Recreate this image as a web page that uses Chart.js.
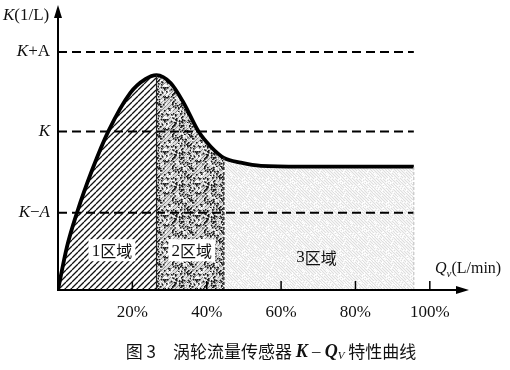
<!DOCTYPE html>
<html><head><meta charset="utf-8">
<script src="https://cdn.jsdelivr.net/npm/chart.js@4"></script>
<style>html,body{margin:0;padding:0;background:#fff}canvas{display:block}</style>
</head><body>
<canvas id="c" width="510" height="370"></canvas>
<script>
// ---- data ----
const pctTicks   = [20, 40, 60, 80, 100];
const tickLabels = ['20%', '40%', '60%', '80%', '100%'];
const kLevelNames = ['K−A', 'K', 'K+A'];
const kLevels     = [0.97, 1.99, 2.99];
const curveQ = [0, 2.4, 5.1, 9.2, 13.5, 19.5, 23.5, 26.5, 30.3, 33.8, 37.8, 41.1, 44.6, 49.2, 54.6, 65.4, 95.7];
const curveK = [0, 0.54, 0.97, 1.51, 1.99, 2.48, 2.65, 2.70, 2.60, 2.35, 1.99, 1.80, 1.66, 1.60, 1.56, 1.55, 1.55];
const regionBounds = [0, 26.5, 44.6, 95.7];
const regionLabels = ['1区域', '2区域', '3区域'];

const SERIF = '"Liberation Serif","DejaVu Serif",serif';
const CJK = '"Noto Sans CJK SC","Liberation Serif",serif';

// ---- patterns ----
function rng(seed){let s=seed>>>0;return ()=>{s=(s*1664525+1013904223)>>>0;return s/4294967296;};}
function hatchPattern(size, bg, color, lw, dir){
  const c=document.createElement('canvas');c.width=c.height=size;const g=c.getContext('2d');
  g.fillStyle=bg;g.fillRect(0,0,size,size);g.strokeStyle=color;g.lineWidth=lw;
  g.beginPath();
  for(let k=-1;k<=1;k++){
    if(dir>0){g.moveTo(k*size,size);g.lineTo(k*size+size,0);}
    else{g.moveTo(k*size,0);g.lineTo(k*size+size,size);}
  }
  g.stroke();
  return g.createPattern(c,'repeat');
}
function stipplePattern(){
  const size=32;const c=document.createElement('canvas');c.width=c.height=size;const g=c.getContext('2d');
  g.fillStyle='#dcdcdc';g.fillRect(0,0,size,size);
  g.strokeStyle='rgba(40,40,40,0.45)';g.lineWidth=1;g.beginPath();
  for(let k=-8;k<=8;k++){g.moveTo(k*4,size);g.lineTo(k*4+size,0);}g.stroke();
  const r=rng(7);
  for(let i=0;i<240;i++){const x=Math.floor(r()*size),y=Math.floor(r()*size);
    g.fillStyle=r()<0.58?'#1a1a1a':'#ffffff';g.fillRect(x,y,1.5,1.5);}
  return g.createPattern(c,'repeat');
}
function lightPattern(){
  const size=24;const c=document.createElement('canvas');c.width=c.height=size;const g=c.getContext('2d');
  g.fillStyle='#f5f5f5';g.fillRect(0,0,size,size);
  g.strokeStyle='#d8d8d8';g.lineWidth=0.8;g.beginPath();
  for(let k=-8;k<=8;k++){g.moveTo(k*3,0);g.lineTo(k*3+size,size);}g.stroke();
  const r=rng(3);
  for(let i=0;i<90;i++){g.fillStyle='#ffffff';g.fillRect(Math.floor(r()*size),Math.floor(r()*size),1,1);}
  return g.createPattern(c,'repeat');
}
const pats=[hatchPattern(6,'#ffffff','#111111',1.3,1), stipplePattern(), lightPattern()];

const curve = curveQ.map((q,i)=>({x:q,y:curveK[i]}));
function regionData(i){return curve.filter(p=>p.x>=regionBounds[i]-1e-9 && p.x<=regionBounds[i+1]+1e-9);}

const datasets=[{
  data:curve, borderColor:'#000', borderWidth:3.8, pointRadius:0, fill:false,
  cubicInterpolationMode:'monotone', order:0
}];
kLevels.forEach(v=>datasets.push({
  data:[{x:0,y:v},{x:regionBounds[3],y:v}], borderColor:'#000', borderWidth:2,
  borderDash:[9,5], pointRadius:0, fill:false, order:1
}));
for(let i=0;i<3;i++) datasets.push({
  data:regionData(i), borderWidth:0, borderColor:'rgba(0,0,0,0)', backgroundColor:pats[i],
  pointRadius:0, fill:'origin', cubicInterpolationMode:'monotone', order:3
});

function runs(ctx, parts, x, y, align){
  let w=0; parts.forEach(p=>{ctx.font=p.f;p.w=ctx.measureText(p.t).width;w+=p.w;});
  let cx = align==='right'? x-w : align==='center'? x-w/2 : x;
  parts.forEach(p=>{ctx.font=p.f;ctx.fillText(p.t,cx,y+(p.dy||0));cx+=p.w;});
  return w;
}

const deco={
  id:'deco',
  beforeDraw(ch){const c=ch.ctx;c.save();c.fillStyle='#fff';c.fillRect(0,0,ch.width,ch.height);c.restore();},
  afterDatasetsDraw(ch){
    const c=ch.ctx, xs=ch.scales.x, ys=ch.scales.y;
    const X=v=>xs.getPixelForValue(v), Y=v=>ys.getPixelForValue(v);
    c.save();
    // region boundary lines
    const kAt=q=>curveK[curveQ.indexOf(q)];
    c.strokeStyle='#222';c.lineWidth=1.2;
    c.beginPath();c.moveTo(X(regionBounds[1]),Y(0));c.lineTo(X(regionBounds[1]),Y(kAt(regionBounds[1])));c.stroke();
    c.setLineDash([3,2]);c.strokeStyle='#333';c.lineWidth=1.5;
    c.beginPath();c.moveTo(X(regionBounds[2]),Y(0));c.lineTo(X(regionBounds[2]),Y(kAt(regionBounds[2])));c.stroke();
    c.strokeStyle='#bbb';c.lineWidth=1;
    c.beginPath();c.moveTo(X(regionBounds[3]),Y(0));c.lineTo(X(regionBounds[3]),Y(kAt(regionBounds[3])));c.stroke();
    c.setLineDash([]);
    // region labels
    c.textBaseline='middle';
    const lbl=[[14.5,0.50],[36,0.50],[69.5,0.42]];
    regionLabels.forEach((t,i)=>{
      const x=X(lbl[i][0]), y=Y(lbl[i][1]);
      c.font='16px '+CJK; const w=c.measureText(t).width;
      if(i<2){c.fillStyle='#fff';c.fillRect(x-w/2-3,y-11,w+6,22);}
      c.fillStyle='#111';
      runs(c,[{t:t[0],f:'17px '+SERIF},{t:t.slice(1),f:'16px '+CJK}],x,y+1,'center');
    });
    // axes
    const x0=X(0), y0=Y(0), xr=ch.chartArea.right+2, yt=ch.chartArea.top;
    c.strokeStyle='#000';c.fillStyle='#000';c.lineWidth=2;
    c.beginPath();c.moveTo(x0,y0+1);c.lineTo(x0,yt+10);c.stroke();
    c.beginPath();c.moveTo(x0-1,y0);c.lineTo(xr-10,y0);c.stroke();
    c.beginPath();c.moveTo(x0,yt);c.lineTo(x0-4,yt+13);c.lineTo(x0+4,yt+13);c.closePath();c.fill();
    c.beginPath();c.moveTo(xr,y0);c.lineTo(xr-13,y0-4);c.lineTo(xr-13,y0+4);c.closePath();c.fill();
    // x ticks
    c.lineWidth=1.5;
    pctTicks.forEach(v=>{c.beginPath();c.moveTo(X(v),y0);c.lineTo(X(v),y0-9);c.stroke();});
    c.font='17px '+SERIF;c.textAlign='center';c.textBaseline='middle';c.fillStyle='#111';
    tickLabels.forEach((t,i)=>c.fillText(t,X(pctTicks[i]),y0+23));
    // y labels
    c.textAlign='left';
    const IT='italic 17px '+SERIF, RM='17px '+SERIF;
    const yl=[
      [{t:'K',f:IT},{t:'−',f:RM},{t:'A',f:IT}],
      [{t:'K',f:IT}],
      [{t:'K',f:IT},{t:'+A',f:RM}]
    ];
    kLevels.forEach((v,i)=>runs(c,yl[i],x0-8,Y(v),'right'));
    runs(c,[{t:'K',f:IT},{t:'(1/L)',f:RM}],3,yt+11,'left');
    // x title
    runs(c,[{t:'Q',f:'italic 16px '+SERIF},{t:'v',f:'italic 11px '+SERIF,dy:5},{t:'(L/min)',f:'16px '+SERIF}],435,y0-21,'left');
    // caption
    runs(c,[{t:'图 3',f:'17px '+CJK},{t:'    ',f:'17px '+SERIF},{t:'涡轮流量传感器 ',f:'17px '+CJK},
            {t:'K',f:'bold italic 18px '+SERIF},{t:' – ',f:'17px '+SERIF},{t:'Q',f:'bold italic 18px '+SERIF},
            {t:'V',f:'italic 11px '+SERIF,dy:4},{t:' 特性曲线',f:'17px '+CJK}],271,352,'center');
    c.restore();
  }
};

new Chart(document.getElementById('c'),{
  type:'line',
  data:{datasets},
  options:{
    responsive:false, animation:false, events:[],
    layout:{padding:{left:58,right:43,top:5,bottom:80}},
    plugins:{legend:{display:false},tooltip:{enabled:false}},
    scales:{
      x:{type:'linear',min:0,max:110,display:false},
      y:{type:'linear',min:0,max:3.58,display:false}
    }
  },
  plugins:[deco]
});
</script>
</body></html>
